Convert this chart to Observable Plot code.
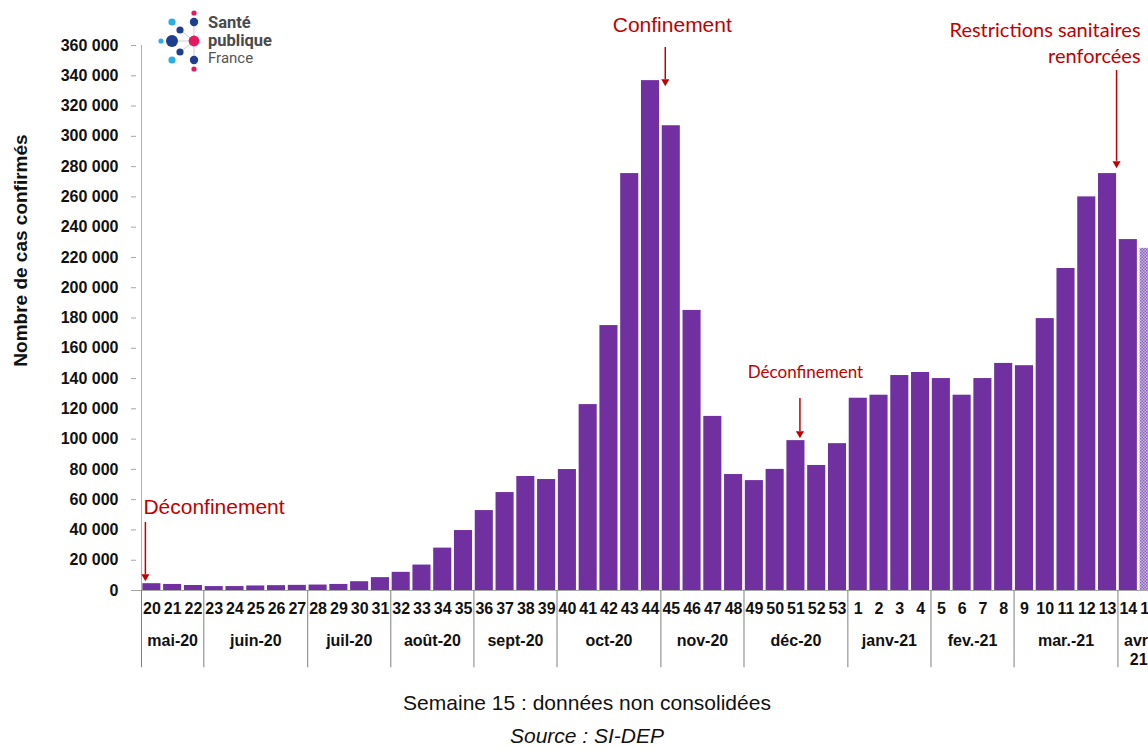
<!DOCTYPE html>
<html>
<head>
<meta charset="utf-8">
<script src="https://cdn.jsdelivr.net/npm/d3@7"></script>
<script src="https://cdn.jsdelivr.net/npm/@observablehq/plot@0.6"></script>
<style>
  html, body { margin: 0; padding: 0; background: #fff; overflow: hidden; }
  #wrap { position: relative; width: 1148px; height: 747px; overflow: hidden; font-family: "Liberation Sans", Arial, sans-serif; }
  #chart { position: absolute; left: 0; top: 0; }
  .foot { position: absolute; left: 0; width: 1174px; text-align: center; color: #111; font-size: 21px; line-height: 20px; }
  #logo { position: absolute; left: 150px; top: 4px; }
</style>
</head>
<body>
<div id="wrap">
  <div id="chart"></div>
  <svg id="logo" width="145" height="70" viewBox="150 4 145 70">
    <g stroke="#c7cde0" stroke-width="1">
      <line x1="194" y1="41" x2="194" y2="22"/><line x1="194" y1="41" x2="180" y2="30"/>
      <line x1="194" y1="41" x2="172" y2="41"/><line x1="194" y1="41" x2="180" y2="52"/>
      <line x1="194" y1="41" x2="194" y2="59"/>
    </g>
    <circle cx="194" cy="13" r="2.6" fill="#e6195f"/>
    <circle cx="194" cy="22" r="4.2" fill="#1e3f8f"/>
    <circle cx="172" cy="22" r="3.6" fill="#29aee6"/>
    <circle cx="180" cy="30" r="3.6" fill="#1e3f8f"/>
    <circle cx="194" cy="41" r="5.4" fill="#e6195f"/>
    <circle cx="172" cy="41" r="6" fill="#1e3f8f"/>
    <circle cx="161" cy="41" r="2.6" fill="#29aee6"/>
    <circle cx="180" cy="52" r="3.6" fill="#1e3f8f"/>
    <circle cx="172" cy="60" r="3.6" fill="#29aee6"/>
    <circle cx="194" cy="60" r="4.2" fill="#1e3f8f"/>
    <circle cx="194" cy="69" r="2.6" fill="#e6195f"/>
    <text x="208" y="28" font-family="Roboto, 'Liberation Sans', sans-serif" font-weight="bold" font-size="16.5" fill="#4a4a4a">Santé</text>
    <text x="208" y="45.5" font-family="Roboto, 'Liberation Sans', sans-serif" font-weight="bold" font-size="16.5" fill="#4a4a4a">publique</text>
    <text x="208" y="63" font-family="Roboto, 'Liberation Sans', sans-serif" font-size="15" fill="#555">France</text>
  </svg>
  <div class="foot" style="top:693px;">Semaine 15 : données non consolidées</div>
  <div class="foot" style="top:726px;font-style:italic;">Source : SI-DEP</div>
</div>
<script>
// ---- data ----
const weeks = ["20","21","22","23","24","25","26","27","28","29","30","31","32","33","34","35","36","37","38","39","40","41","42","43","44","45","46","47","48","49","50","51","52","53","1","2","3","4","5","6","7","8","9","10","11","12","13","14","15"];
const cases = [4500,4000,3300,2600,2600,3000,3200,3400,3600,4000,5800,8500,12000,16800,28000,39600,52800,64700,75300,73300,79900,122800,175000,275400,336800,307000,185000,115000,76600,72600,80000,99000,82600,97000,127000,129000,142000,144000,140000,129000,140000,150000,148500,179600,212700,260000,275400,231800,226000];
const provisionalWeek = "15";
const monthLabels = ["mai-20","juin-20","juil-20","août-20","sept-20","oct-20","nov-20","déc-20","janv-21","fev.-21","mar.-21","avr-\n21"];
const monthFirstWeek = ["20","23","28","32","36","40","45","49","1","5","9","14"];
const monthWeekCount = [3,5,4,4,4,5,4,5,4,4,5,2];
const yTicks = d3.range(0, 360001, 20000);

const data = weeks.map((w, i) => ({week: w, cases: cases[i]}));
const months = monthLabels.map((m, i) => ({label: m, first: monthFirstWeek[i], n: monthWeekCount[i]}));

// ---- layout ----
const W = 1148, H = 685;
const xRange = [141, 1159];
const step = (xRange[1] - xRange[0]) / weeks.length;
const red = "#c00000";
const purple = "#7030a0";
const fmt = d => d3.format(",")(d).replace(/,/g, " ");

const monthMarks = months.map(m => Plot.text([m], {
  x: d => d.first, y: 0, text: d => d.label, dy: 42, dx: (m.n - 1) * step / 2,
  lineAnchor: "top", fontSize: 16, fontWeight: "bold", fill: "#111", lineHeight: 1.2
}));

const chart = Plot.plot({
  width: W, height: H,
  marginLeft: 136, marginRight: 0, marginTop: 45, marginBottom: H - 590,
  style: {fontFamily: "'Liberation Sans', Arial, sans-serif", fontSize: "16px", background: "white", overflow: "hidden"},
  x: {type: "band", domain: weeks, range: xRange, paddingInner: 0.13, paddingOuter: 0.065},
  y: {domain: [0, 360000], range: [590, 45]},
  marks: [
    Plot.axisY({ticks: yTicks, tickFormat: fmt, tickSize: 5, tickPadding: 13, stroke: "#a6a6a6", fill: "#111", fontWeight: "bold", fontSize: 16, label: null}),
    Plot.axisX({tickSize: 0, tickPadding: 12, fill: "#111", fontWeight: "bold", fontSize: 16, label: null}),
    Plot.barY(data.filter(d => d.week !== provisionalWeek), {x: "week", y: "cases", fill: purple}),
    Plot.barY(data.filter(d => d.week === provisionalWeek), {x: "week", y: "cases", fill: "#b59bd3", className: "provisional"}),
    // y axis line
    Plot.ruleX([weeks[0]], {x: d => d, y1: 0, y2: 360000, dx: -step / 2, stroke: "#b0b0b0"}),
    Plot.ruleY([0], {stroke: "#a6a6a6"}),
    // month separators
    Plot.ruleX(months, {x: "first", y1: 0, y2: -51000, dx: -step / 2, stroke: "#7f7f7f"}),
    ...monthMarks,
    // y title
    Plot.text(["Nombre de cas confirmés"], {frameAnchor: "top-left", dx: 20 - 136, dy: 205, rotate: -90, textAnchor: "middle", lineAnchor: "middle", fontSize: 19, fontWeight: "bold", fill: "#111"}),
    // annotations: Déconfinement (mai)
    Plot.text(["Déconfinement"], {x: () => "20", y: 54800, dx: -8.5, textAnchor: "start", fontSize: 21, fill: red}),
    Plot.ruleX(["20"], {x: d => d, y1: 44900, y2: 10500, dx: -6.5, stroke: red, strokeWidth: 1.5}),
    Plot.dot(["20"], {x: d => d, y: 9250, dx: -6.5, symbol: "triangle", rotate: 180, r: 3, fill: red, stroke: "none"}),
    // Confinement
    Plot.text(["Confinement"], {x: () => "45", y: 373200, dx: 1, fontSize: 21, fill: red}),
    Plot.ruleX(["45"], {x: d => d, y1: 358700, y2: 337500, dx: -6, stroke: red, strokeWidth: 1.5}),
    Plot.dot(["45"], {x: d => d, y: 336200, dx: -6, symbol: "triangle", rotate: 180, r: 3, fill: red, stroke: "none"}),
    // Déconfinement (déc)
    Plot.text(["Déconfinement"], {x: () => "51", y: 144000, dx: 9.5, fontSize: 17, fill: red, fontFamily: "Lato, 'Open Sans', sans-serif"}),
    Plot.ruleX(["51"], {x: d => d, y1: 126800, y2: 105000, dx: 4, stroke: red, strokeWidth: 1.5}),
    Plot.dot(["51"], {x: d => d, y: 103700, dx: 4, symbol: "triangle", rotate: 180, r: 3, fill: red, stroke: "none"}),
    // Restrictions sanitaires renforcées
    Plot.text(["Restrictions sanitaires\nrenforcées"], {x: () => "13", y: 362600, dx: 1140 - 1107, textAnchor: "end", lineAnchor: "middle", lineHeight: 1.3, fontSize: 20, fill: red, fontFamily: "Lato, 'Open Sans', sans-serif"}),
    Plot.ruleX(["13"], {x: d => d, y1: 343500, y2: 283500, dx: 9, stroke: red, strokeWidth: 1.5}),
    Plot.dot(["13"], {x: d => d, y: 282000, dx: 9, symbol: "triangle", rotate: 180, r: 3, fill: red, stroke: "none"})
  ]
});

// hatched pattern for the provisional week
const ns = "http://www.w3.org/2000/svg";
const defs = document.createElementNS(ns, "defs");
defs.innerHTML = '<pattern id="hatch" width="3" height="3" patternUnits="userSpaceOnUse"><rect width="3" height="3" fill="#cdb8e3"/><rect width="1.5" height="1.5" fill="#8b5fbd"/><rect x="1.5" y="1.5" width="1.5" height="1.5" fill="#8b5fbd"/></pattern>';
chart.insertBefore(defs, chart.firstChild);
chart.querySelectorAll(".provisional rect, g.provisional rect").forEach(r => r.setAttribute("fill", "url(#hatch)"));
document.getElementById("chart").appendChild(chart);
</script>
</body>
</html>
